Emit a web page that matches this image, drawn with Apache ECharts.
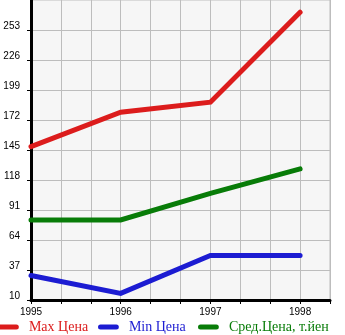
<!DOCTYPE html>
<html>
<head>
<meta charset="utf-8">
<script src="https://cdn.jsdelivr.net/npm/echarts@6/dist/echarts.min.js"></script>
<style>
  html, body { margin: 0; padding: 0; background: #ffffff; }
  #chart { width: 345px; height: 335px; }
</style>
</head>
<body>
<div id="chart"></div>
<script>
// Years on the horizontal axis
const years = [1995, 1996, 1997, 1998];
// Price series (thousand yen)
const maxPrice = [148, 179, 188, 269];
const minPrice = [32, 16, 50, 50];
const avgPrice = [82, 82, 106, 128];
// Vertical axis tick labels
const yTicks = [10, 37, 64, 91, 118, 145, 172, 199, 226, 253];

const seriesNames = ['Max Цена', 'Min Цена', 'Сред.Цена, т.йен'];
const seriesColors = ['#dc1c1c', '#1c1cd2', '#087c08'];
const seriesValues = [maxPrice, minPrice, avgPrice];

const chart = echarts.init(document.getElementById('chart'), null, { renderer: 'canvas' });

const capsule = 'path://M3,0 L22,0 A3,3 0 0 1 22,6 L3,6 A3,3 0 0 1 3,0 Z';

// One legend block per series, laid out on a fixed 100px pitch
const legends = seriesNames.map((n, i) => ({
  left: -2 + i * 100,
  top: 319,
  padding: 0,
  itemWidth: 25,
  itemHeight: 5,
  icon: capsule,
  textStyle: { fontFamily: 'Liberation Serif', fontSize: 14, lineHeight: 16, padding: [0, 0, 0, 3] },
  data: [{ name: n, textStyle: { color: seriesColors[i] } }]
}));

chart.setOption({
  animation: false,
  backgroundColor: '#ffffff',
  grid: {
    left: 31, top: 0, right: 15, bottom: 35,
    show: true,
    backgroundColor: '#f6f6f6',
    borderColor: '#bdbdbd',
    borderWidth: 1
  },
  legend: legends,
  xAxis: {
    type: 'value',
    min: 1995,
    max: 1998 + 1 / 3,
    interval: 1 / 3,
    axisLine: { show: true, onZero: false, lineStyle: { color: '#000', width: 3 } },
    axisTick: { show: true, length: 4, lineStyle: { color: '#000', width: 1 } },
    splitLine: { show: true, lineStyle: { color: '#bdbdbd', width: 1 } },
    axisLabel: {
      margin: 7,
      color: '#000',
      fontFamily: 'Liberation Sans',
      fontSize: 10,
      showMaxLabel: false,
      formatter: function (v) {
        const r = Math.round(v);
        return Math.abs(v - r) < 1e-6 ? String(r) : '';
      }
    }
  },
  yAxis: {
    type: 'value',
    min: 10,
    max: 280,
    axisLine: { show: true, onZero: false, lineStyle: { color: '#000', width: 3 } },
    axisTick: { show: true, length: 4, customValues: yTicks, lineStyle: { color: '#000', width: 1 } },
    splitLine: { show: true, lineStyle: { color: '#bdbdbd', width: 1 } },
    axisLabel: {
      customValues: yTicks,
      margin: 11,
      color: '#000',
      fontFamily: 'Liberation Sans',
      fontSize: 10,
      verticalAlign: 'bottom',
      lineHeight: 8
    }
  },
  series: seriesNames.map((n, i) => ({
    name: n,
    type: 'line',
    symbol: 'none',
    color: seriesColors[i],
    lineStyle: { width: 5, color: seriesColors[i], cap: 'round', join: 'miter' },
    data: years.map((y, k) => [y, seriesValues[i][k]])
  }))
});
</script>
</body>
</html>
